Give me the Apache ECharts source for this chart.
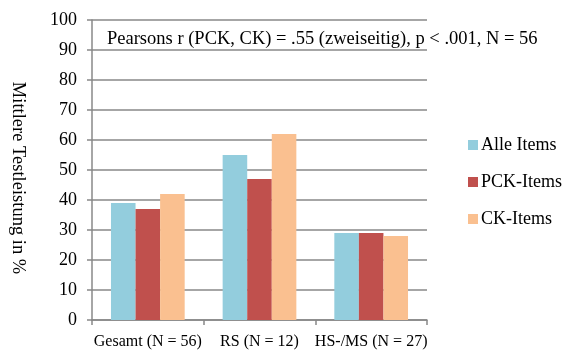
<!DOCTYPE html>
<html>
<head>
<meta charset="utf-8">
<script src="https://cdn.jsdelivr.net/npm/echarts@6/dist/echarts.min.js"></script>
<style>
  html, body { margin: 0; padding: 0; background: #fff; }
  #chart { width: 570px; height: 350px; }
</style>
</head>
<body>
<div id="chart"></div>
<script>
// Kategorien und Werte
const categories = ['Gesamt (N = 56)', 'RS (N = 12)', 'HS-/MS (N = 27)']
const alleItems = [39, 55, 29]
const pckItems = [37, 47, 29]
const ckItems = [42, 62, 28]
const seriesNames = ['Alle Items', 'PCK-Items', 'CK-Items']
const colors = ['#93CDDD', '#C0504D', '#FAC090']

const font = "'Liberation Serif', 'Times New Roman', serif"
const gridColor = '#888888'

const chart = echarts.init(document.getElementById('chart'))
const option = {
  animation: false,
  textStyle: { fontFamily: font },
  title: {
    text: 'Pearsons r (PCK, CK) = .55 (zweiseitig), p < .001, N = 56',
    left: 102,
    top: 25,
    textStyle: { fontFamily: font, fontSize: 18.5, fontWeight: 'normal', color: '#000' }
  },
  legend: {
    orient: 'vertical',
    left: 463,
    top: 131,
    itemWidth: 10,
    itemHeight: 10,
    itemGap: 19,
    icon: 'rect',
    data: seriesNames,
    textStyle: { fontFamily: font, fontSize: 18, color: '#000', padding: [0, 0, 0, -2] }
  },
  grid: {
    left: 86,
    right: 143,
    top: 20,
    bottom: 29
  },
  xAxis: {
    type: 'category',
    data: categories,
    axisLine: { show: true, lineStyle: { color: gridColor, width: 1.5 } },
    axisTick: { show: true, length: 5, lineStyle: { color: gridColor, width: 1.5 } },
    axisLabel: { interval: 0, fontFamily: font, fontSize: 16, color: '#000', margin: 14 }
  },
  yAxis: {
    type: 'value',
    min: 0,
    max: 100,
    interval: 10,
    name: 'Mittlere Testleistung in %',
    nameLocation: 'middle',
    nameRotate: -90,
    nameGap: 65,
    nameTextStyle: { fontFamily: font, fontSize: 18.5, color: '#000', padding: [0, 0, 0, 16] },
    axisLine: { show: true, lineStyle: { color: gridColor, width: 1.5 } },
    axisTick: { show: true, length: 5, lineStyle: { color: gridColor, width: 1.5 } },
    axisLabel: { fontFamily: font, fontSize: 18, color: '#000', margin: 15 },
    splitLine: { lineStyle: { color: gridColor, width: 1.5 } }
  },
  series: [
    { name: seriesNames[0], type: 'bar', data: alleItems, itemStyle: { color: colors[0] }, barGap: '0%', barCategoryGap: '34%' },
    { name: seriesNames[1], type: 'bar', data: pckItems, itemStyle: { color: colors[1] } },
    { name: seriesNames[2], type: 'bar', data: ckItems, itemStyle: { color: colors[2] } }
  ]
}
chart.setOption(option)
</script>
</body>
</html>
